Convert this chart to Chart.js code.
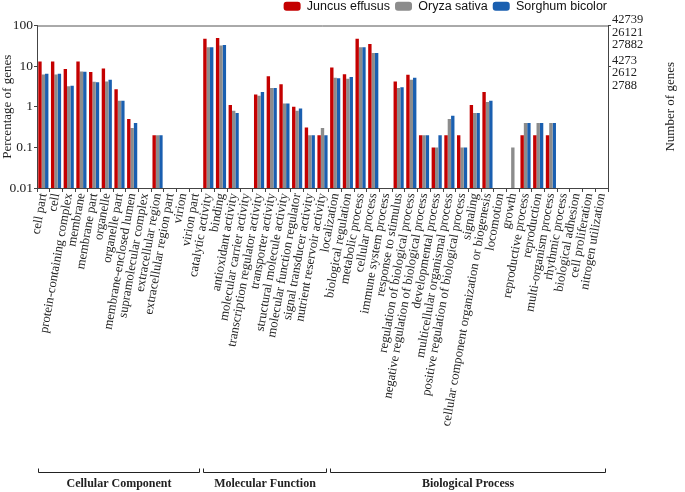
<!DOCTYPE html>
<html>
<head>
<meta charset="utf-8">
<script src="https://cdn.jsdelivr.net/npm/chart.js@4"></script>
<style>
  html, body { margin: 0; padding: 0; background: #fff; }
  #wrap { width: 685px; height: 492px; }
</style>
</head>
<body>
<div id="wrap"><canvas id="myChart" width="685" height="492"></canvas></div>
<script>
// GO terms, in plot order
var labels = [
    'cell part', 'cell', 'protein-containing complex', 'membrane', 'membrane part',
    'organelle', 'organelle part', 'membrane-enclosed lumen', 'supramolecular complex',
    'extracellular region', 'extracellular region part', 'virion', 'virion part',
    'catalytic activity', 'binding', 'antioxidant activity', 'molecular carrier activity',
    'transcription regulator activity', 'transporter activity', 'structural molecule activity',
    'molecular function regulator', 'signal transducer activity', 'nutrient reservoir activity',
    'localization', 'biological regulation', 'metabolic process', 'cellular process',
    'immune system process', 'response to stimulus', 'regulation of biological process',
    'negative regulation of biological process', 'developmental process',
    'multicellular organismal process', 'positive regulation of biological process',
    'signaling', 'cellular component organization or biogenesis', 'locomotion', 'growth',
    'reproductive process', 'reproduction', 'multi-organism process', 'rhythmic process',
    'biological adhesion', 'cell proliferation', 'nitrogen utilization'
];

// percentage of genes
var juncus = [13, 13, 8.5, 13, 7.2, 8.7, 2.7, 0.5, 0, 0.2, 0, 0, 0,
    47, 49, 1.1, 0, 2.0, 5.6, 3.6, 1.0, 0.31, 0.2,
    9.2, 6.3, 47, 35, 0, 4.2, 6.1, 0.2, 0.1, 0.2, 0.2, 1.1, 2.3, 0, 0, 0.2, 0.2, 0.2, 0, 0, 0, 0];
var oryza = [6.2, 6.2, 3.2, 7.4, 4.1, 4.2, 1.4, 0.3, 0, 0.2, 0, 0, 0,
    29, 32, 0.8, 0, 1.87, 2.9, 1.2, 0.8, 0.2, 0.3,
    5.2, 4.9, 29, 21, 0, 2.9, 4.6, 0.2, 0.1, 0.5, 0.1, 0.7, 1.3, 0, 0.1, 0.4, 0.4, 0.4, 0, 0, 0, 0];
var sorghum = [6.5, 6.5, 3.3, 7.3, 4.0, 4.6, 1.4, 0.4, 0, 0.2, 0, 0, 0,
    29, 33, 0.7, 0, 2.3, 2.9, 1.2, 0.9, 0.2, 0.2,
    5.0, 5.4, 29, 21, 0, 3.0, 5.2, 0.2, 0.2, 0.6, 0.1, 0.7, 1.4, 0, 0, 0.4, 0.4, 0.4, 0, 0, 0, 0];

// left axis ticks
var leftTicks = [0.01, 0.1, 1, 10, 100];
// right axis: number of genes at 100% and 10% (Juncus, Oryza, Sorghum)
var rightTicks = [10, 100];
var rightLabels = [['4273', '2612', '2788'], ['42739', '26121', '27882']];

// category groups
var groupNames = ['Cellular Component', 'Molecular Function', 'Biological Process'];
var groupSizes = [13, 10, 22];

var serif = '"Liberation Serif", "Times New Roman", serif';
var txt = '#222';

// pull the legend in so it ends over the plot's right edge
var legendShift = {
    id: 'legendShift',
    afterLayout: function (chart) {
        var lg = chart.legend;
        var d = lg.right - (chart.chartArea.right + 4);
        lg.left -= d;
        lg.right -= d;
        lg.top -= 3;
        lg.bottom -= 3;
    }
};

// brackets + group names under the axis, top frame line, right title
var extras = {
    id: 'extras',
    afterDraw: function (chart) {
        var ctx = chart.ctx;
        var xs = chart.scales.x;
        var area = chart.chartArea;
        var step = xs.getPixelForValue(1) - xs.getPixelForValue(0);
        ctx.save();
        // top frame
        ctx.strokeStyle = '#555';
        ctx.lineWidth = 1;
        ctx.beginPath();
        ctx.moveTo(area.left, area.top + 0.5);
        ctx.lineTo(area.right, area.top + 0.5);
        ctx.stroke();

        // group brackets
        var start = 0;
        var by = 472.5;
        ctx.strokeStyle = '#222';
        ctx.fillStyle = txt;
        ctx.font = 'bold 12px ' + serif;
        ctx.textAlign = 'center';
        ctx.textBaseline = 'middle';
        for (var g = 0; g < groupNames.length; g++) {
            var end = start + groupSizes[g] - 1;
            var x1 = Math.round(xs.getPixelForValue(start) - step / 2) + 1.5;
            var x2 = Math.round(xs.getPixelForValue(end) + step / 2) - 2.5;
            ctx.beginPath();
            ctx.moveTo(x1, by - 4);
            ctx.lineTo(x1, by);
            ctx.lineTo(x2, by);
            ctx.lineTo(x2, by - 4);
            ctx.stroke();
            ctx.fillText(groupNames[g], (x1 + x2) / 2, 484);
            start = end + 1;
        }

        // right axis title
        ctx.font = '13px ' + serif;
        ctx.translate(671, (area.top + area.bottom) / 2);
        ctx.rotate(-Math.PI / 2);
        ctx.fillText('Number of genes', 0, 0);
        ctx.restore();
    }
};

var chartData = {
    labels: labels,
    datasets: [{
        label: 'Juncus effusus',
        data: juncus,
        backgroundColor: '#c40000',
        yAxisID: 'y'
    }, {
        label: 'Oryza sativa',
        data: oryza,
        backgroundColor: '#8c8c8c',
        yAxisID: 'y'
    }, {
        label: 'Sorghum bicolor',
        data: sorghum,
        backgroundColor: '#1a5fb0',
        yAxisID: 'y'
    }]
};

var ctx = document.getElementById('myChart').getContext('2d');

window.myChartInstance = new Chart(ctx, {
    type: 'bar',
    data: chartData,
    plugins: [legendShift, extras],
    options: {
        responsive: false,
        animation: false,
        layout: { padding: { top: -2 } },
        datasets: {
            bar: { categoryPercentage: 0.8, barPercentage: 1.0 }
        },
        plugins: {
            tooltip: { enabled: false },
            legend: {
                position: 'top',
                align: 'end',
                labels: {
                    font: { family: '"Liberation Sans", Arial, sans-serif', size: 12.5 },
                    color: '#111',
                    boxWidth: 17,
                    boxHeight: 9,
                    padding: 5,
                    useBorderRadius: true,
                    borderRadius: 3
                }
            }
        },
        scales: {
            x: {
                type: 'category',
                offset: true,
                grid: {
                    display: true,
                    drawOnChartArea: false,
                    offset: true,
                    tickLength: 4,
                    color: '#444'
                },
                border: { color: '#444' },
                ticks: {
                    autoSkip: false,
                    minRotation: 80,
                    maxRotation: 80,
                    padding: 0,
                    color: txt,
                    font: { family: serif, size: 12.8 }
                },
                afterFit: function (s) {
                    s.height = 304;
                    s.paddingLeft = 0;
                    s.paddingRight = 0;
                }
            },
            y: {
                type: 'logarithmic',
                position: 'left',
                min: 0.01,
                max: 100,
                grid: {
                    display: true,
                    drawOnChartArea: false,
                    tickLength: 3,
                    color: '#444'
                },
                border: { color: '#444' },
                title: {
                    display: true,
                    text: 'Percentage of genes',
                    color: txt,
                    padding: 0,
                    font: { family: serif, size: 13 }
                },
                ticks: {
                    padding: 1,
                    color: txt,
                    font: { family: serif, size: 13.5 },
                    callback: function (v) { return String(v); }
                },
                afterBuildTicks: function (s) {
                    s.ticks = leftTicks.map(function (v) { return { value: v }; });
                },
                afterFit: function (s) {
                    s.width = 37;
                    s.paddingTop = 0;
                    s.paddingBottom = 0;
                }
            },
            y2: {
                type: 'logarithmic',
                position: 'right',
                min: 0.01,
                max: 100,
                grid: {
                    display: true,
                    drawOnChartArea: false,
                    tickLength: 3,
                    color: '#444'
                },
                border: { color: '#444' },
                ticks: {
                    padding: 1,
                    labelOffset: 7,
                    color: txt,
                    font: { family: serif, size: 12.5, lineHeight: 1.0 },
                    callback: function (v) {
                        var i = rightTicks.indexOf(v);
                        return i >= 0 ? rightLabels[i] : '';
                    }
                },
                afterBuildTicks: function (s) {
                    s.ticks = rightTicks.map(function (v) { return { value: v }; });
                },
                afterFit: function (s) {
                    s.width = 77;
                    s.paddingTop = 0;
                    s.paddingBottom = 0;
                }
            }
        }
    }
});
</script>
</body>
</html>
